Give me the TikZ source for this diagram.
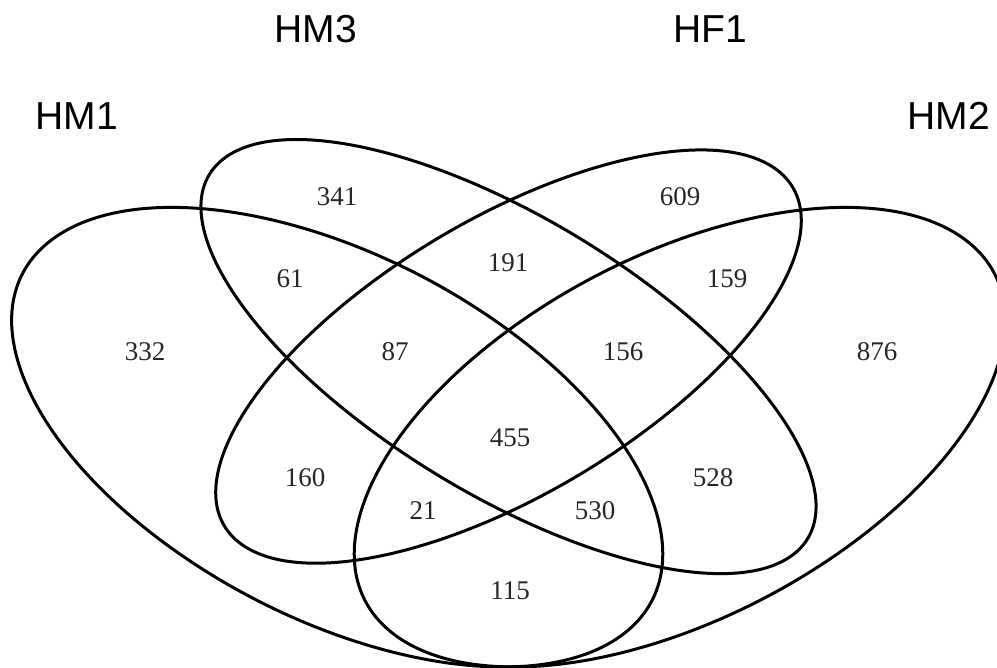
\documentclass[tikz,border=0pt]{standalone}
\usepackage{fontspec}
\setmainfont{Liberation Serif}
\newfontfamily\setfont{Liberation Sans}
\begin{document}
\begin{tikzpicture}[x=1pt,y=1pt,
  setline/.style={line width=3pt, black},
  count/.style={font=\fontsize{27}{27}\selectfont, text=black!85, inner sep=0pt},
  setname/.style={font=\setfont\fontsize{39}{39}\selectfont, inner sep=0pt}]
\useasboundingbox (0,0) rectangle (997,668);
% four ellipses, drawn in a unit-percent frame stretched to the page
\begin{scope}[shift={(-62.5,-148)}, xscale=11.42, yscale=8.06]
  \draw[setline, rotate around={135:(35,47)}] (35,47) ellipse (35 and 20);
  \draw[setline, rotate around={45:(65,47)}]  (65,47) ellipse (35 and 20);
  \draw[setline, rotate around={135:(50,57)}] (50,57) ellipse (35 and 15);
  \draw[setline, rotate around={45:(50,57)}]  (50,57) ellipse (33 and 15);
\end{scope}
% set names
\node[setname] (hm1) at (77,552) {HM1};
\node[setname] (hm3) at (316,639) {HM3};
\node[setname] (hf1) at (710,639) {HF1};
\node[setname] (hm2) at (949,552) {HM2};
% region counts
\node[count] (c332) at (145,316) {332};
\node[count] (c341) at (337,471) {341};
\node[count] (c609) at (680,471) {609};
\node[count] (c876) at (877,316) {876};
\node[count] (c61)  at (290,389) {61};
\node[count] (c191) at (508,405) {191};
\node[count] (c159) at (727,389) {159};
\node[count] (c87)  at (395,316) {87};
\node[count] (c156) at (623,316) {156};
\node[count] (c455) at (510,230) {455};
\node[count] (c160) at (305,190) {160};
\node[count] (c528) at (713,190) {528};
\node[count] (c21)  at (423,157) {21};
\node[count] (c530) at (595,157) {530};
\node[count] (c115) at (510,77) {115};
\end{tikzpicture}
\end{document}
